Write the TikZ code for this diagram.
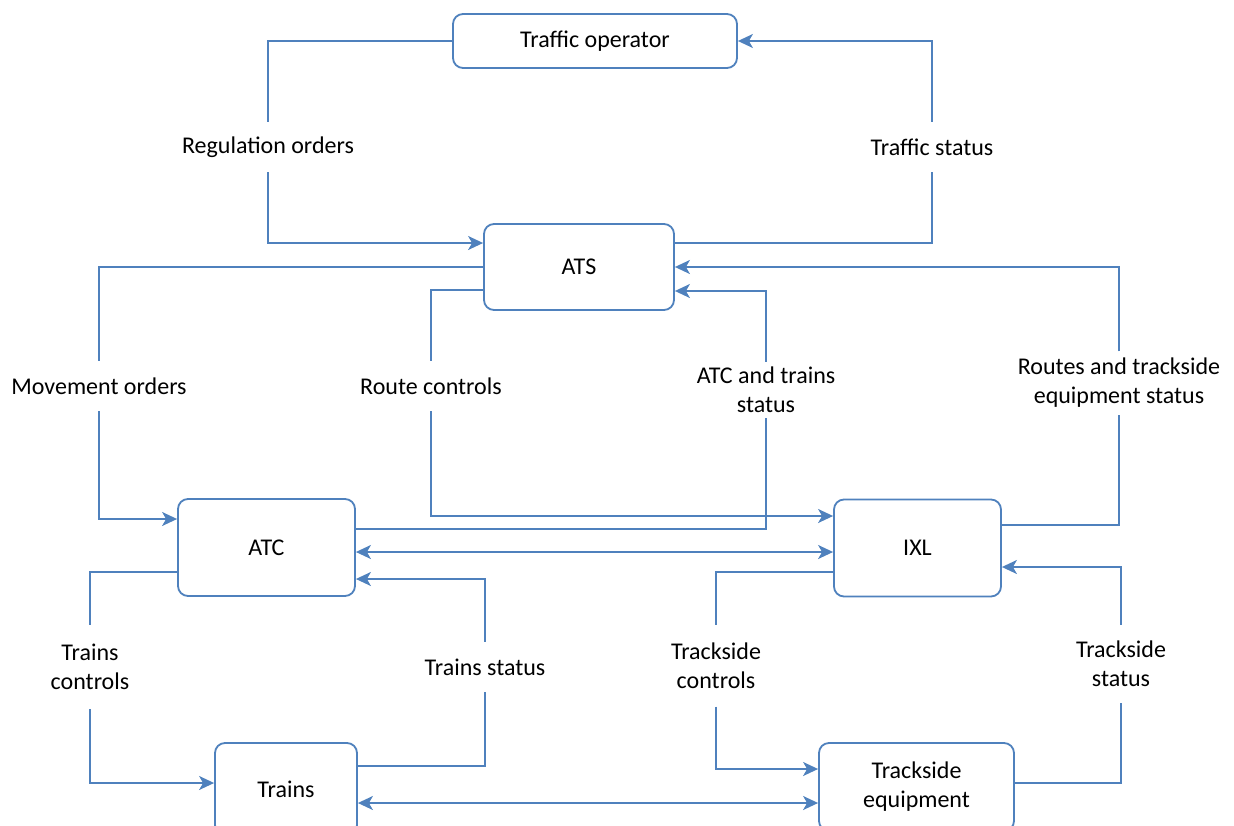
\documentclass[tikz,border=0pt]{standalone}
\usepackage{fontspec}
\setmainfont{Carlito}
\usepackage{tikz}
\usetikzlibrary{arrows.meta,positioning,calc}
\definecolor{lineblue}{RGB}{79,129,189}

\begin{document}
\begin{tikzpicture}[x=1pt,y=-1pt,
  font=\fontsize{24}{29}\selectfont,
  box/.style={draw=lineblue,line width=1.8pt,rounded corners=10pt,fill=white,align=center,inner sep=0pt},
  lbl/.style={align=center,inner sep=0pt,minimum height=50pt},
  conn/.style={draw=lineblue,line width=1.8pt},
  >={Stealth[length=15pt,width=14pt,inset=4pt]}]
\clip (0,0) rectangle (1234,825);
\useasboundingbox (0,0) rectangle (1234,825);
\node[box,minimum width=284pt,minimum height=54pt] (traffic) at (595,41) {Traffic operator};
\node[box,minimum width=190pt,minimum height=86pt] (ats) at (579,267) {ATS};
\node[box,minimum width=177pt,minimum height=97pt] (atc) at (266.5,547.5) {ATC};
\node[box,minimum width=167pt,minimum height=97pt] (ixl) at (917.5,548) {IXL};
\node[box,minimum width=142pt,minimum height=92pt] (trains) at (286,789) {Trains};
\node[box,minimum width=195pt,minimum height=88pt] (track) at (916.5,787) {Trackside\\equipment};
\node[lbl] (lreg) at (268,147) {Regulation orders};
\node[lbl] (lts) at (932,147) {Traffic status};
\node[lbl] (lmov) at (99,386) {Movement orders};
\node[lbl] (lroute) at (431,386) {Route controls};
\node[lbl,minimum height=56pt] (latcst) at (766,390) {ATC and trains\\status};
\node[lbl,minimum height=63pt] (lroutes) at (1119,383) {Routes and trackside\\equipment status};
\node[lbl,minimum height=84pt] (ltrc) at (90,667) {Trains\\controls};
\node[lbl] (ltrs) at (485,667) {Trains status};
\node[lbl,minimum height=81pt] (ltkc) at (716,666) {Trackside\\controls};
\node[lbl,minimum height=78pt] (ltks) at (1121,664) {Trackside\\status};
\draw[conn] (traffic.west) -| (lreg.north);
\draw[conn,->] (lreg.south) |- ($(ats.west)+(0,-24)$);
\draw[conn] ($(ats.east)+(0,-24)$) -| (lts.south);
\draw[conn,->] (lts.north) |- (traffic.east);
\draw[conn] (ats.west) -| (lmov.north);
\draw[conn,->] (lmov.south) |- ($(atc.west)+(0,-28.5)$);
\draw[conn] ($(ats.west)+(0,23)$) -| (lroute.north);
\draw[conn,->] (lroute.south) |- ($(ixl.west)+(0,-32)$);
\draw[conn] ($(atc.east)+(0,-18.5)$) -| (latcst.south);
\draw[conn,->] (latcst.north) |- ($(ats.east)+(0,24)$);
\draw[conn] ($(ixl.east)+(0,-23)$) -| (lroutes.south);
\draw[conn,->] (lroutes.north) |- (ats.east);
\draw[conn,<->] ($(atc.east)+(0,4.5)$) -- ($(atc.east -| ixl.west)+(0,4.5)$);
\draw[conn] ($(atc.west)+(0,24.5)$) -| (ltrc.north);
\draw[conn,->] (ltrc.south) |- ($(trains.west)+(0,-6)$);
\draw[conn] ($(trains.east)+(0,-23)$) -| (ltrs.south);
\draw[conn,->] (ltrs.north) |- ($(atc.east)+(0,31.5)$);
\draw[conn] ($(ixl.west)+(0,24)$) -| (ltkc.north);
\draw[conn,->] (ltkc.south) |- ($(track.west)+(0,-18)$);
\draw[conn] ($(track.east)+(0,-4)$) -| (ltks.south);
\draw[conn,->] (ltks.north) |- ($(ixl.east)+(0,19)$);
\draw[conn,<->] ($(trains.east)+(0,14)$) -- ($(trains.east -| track.west)+(0,14)$);
\end{tikzpicture}
\end{document}
